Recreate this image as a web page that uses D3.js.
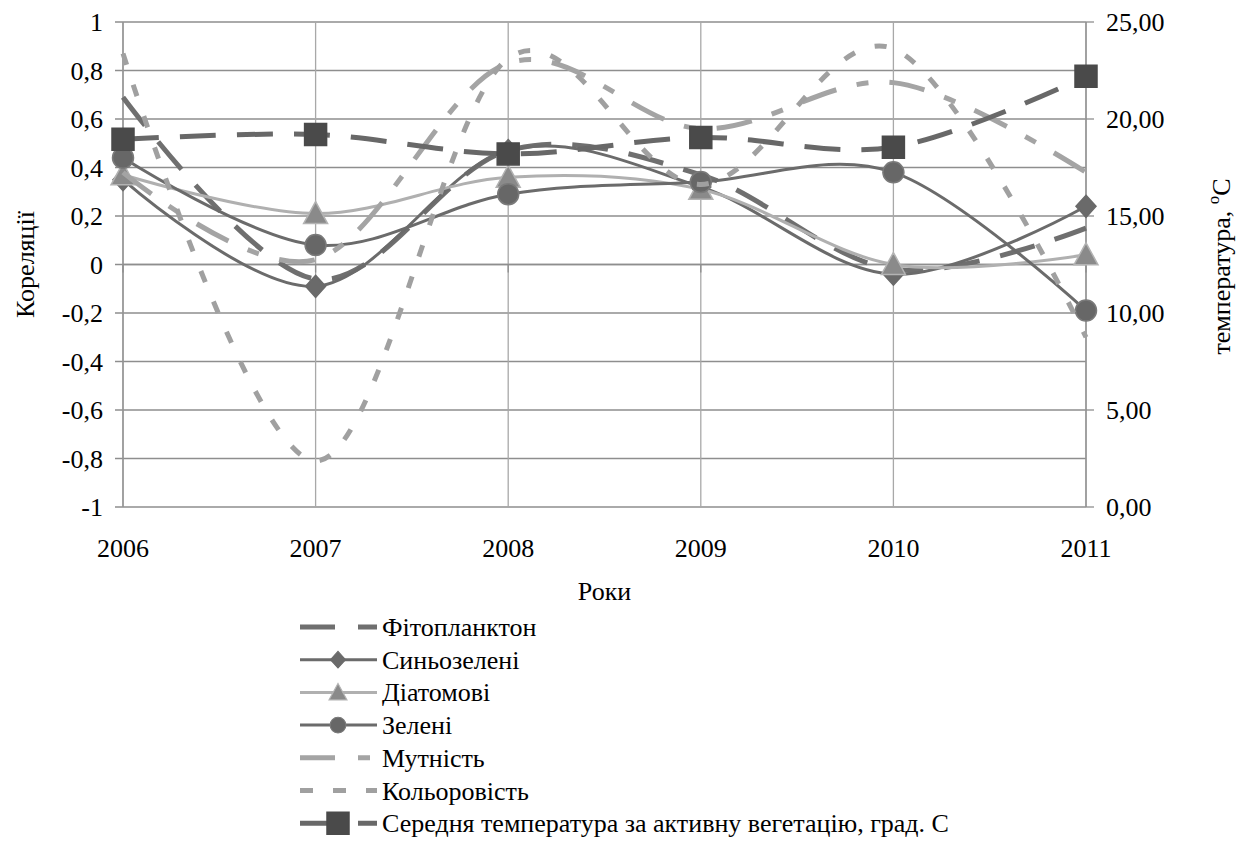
<!DOCTYPE html>
<html><head><meta charset="utf-8">
<script src="https://cdn.jsdelivr.net/npm/d3@7"></script>
</head>
<body style="margin:0">
<svg id="c" width="1240" height="842" style="font-family:'Times New Roman'"></svg>
<script>
const years = [2006, 2007, 2008, 2009, 2010, 2011];
const fitoplankton = [0.69, -0.06, 0.47, 0.37, -0.02, 0.15];
const synozeleni = [0.35, -0.09, 0.47, 0.32, -0.04, 0.24];
const diatomovi = [0.37, 0.21, 0.36, 0.31, 0.00, 0.04];
const zeleni = [0.44, 0.08, 0.29, 0.34, 0.38, -0.19];
const mutnist = [0.38, 0.02, 0.83, 0.56, 0.75, 0.38];
const kolorovist = [0.87, -0.81, 0.85, 0.33, 0.89, -0.30];
const temperature = [18.95, 19.2, 18.2, 19.05, 18.55, 22.2];
const leftTicks = [1, 0.8, 0.6, 0.4, 0.2, 0, -0.2, -0.4, -0.6, -0.8, -1];
const rightTicks = [25, 20, 15, 10, 5, 0];
const seriesNames = ["Фітопланктон","Синьозелені","Діатомові","Зелені","Мутність","Кольоровість","Середня температура за активну вегетацію, град. С"];

const svg = d3.select("#c");
const L = 123, R = 1086, T = 22, B = 507;
const x = d3.scalePoint().domain(years).range([L, R]);
const yL = d3.scaleLinear().domain([-1, 1]).range([B, T]);
const yR = d3.scaleLinear().domain([0, 25]).range([B, T]);
const FS = 26;

function txt(sel) {
  return sel.style("font-family", "'Times New Roman'").attr("font-size", FS);
}

const g = svg.append("g");
g.selectAll("line.h").data(leftTicks).enter().append("line")
  .attr("x1", L - 8).attr("x2", R).attr("y1", d => yL(d)).attr("y2", d => yL(d))
  .attr("stroke", "#8e8e8e").attr("stroke-width", 1.3);
g.selectAll("line.v").data(years).enter().append("line")
  .attr("x1", d => x(d)).attr("x2", d => x(d)).attr("y1", T).attr("y2", B)
  .attr("stroke", "#a8a8a8").attr("stroke-width", 1.3);
g.append("line").attr("x1", L).attr("x2", L).attr("y1", T).attr("y2", B).attr("stroke", "#8e8e8e").attr("stroke-width", 1.3);
g.append("line").attr("x1", R).attr("x2", R).attr("y1", T).attr("y2", B).attr("stroke", "#8e8e8e").attr("stroke-width", 1.3);
g.selectAll("line.rt").data(rightTicks).enter().append("line")
  .attr("x1", R).attr("x2", R + 8).attr("y1", d => yR(d)).attr("y2", d => yR(d))
  .attr("stroke", "#8e8e8e").attr("stroke-width", 1.3);
g.append("line").attr("x1", L).attr("x2", R).attr("y1", yL(0)).attr("y2", yL(0)).attr("stroke", "#8e8e8e").attr("stroke-width", 1.3);
g.selectAll("line.xt").data(years).enter().append("line")
  .attr("x1", d => x(d)).attr("x2", d => x(d)).attr("y1", yL(0)).attr("y2", yL(0) + 8)
  .attr("stroke", "#8e8e8e").attr("stroke-width", 1.3);

const fmtL = d => d === 0 ? "0" : (Number.isInteger(d) ? String(d) : d.toFixed(1).replace(".", ","));
txt(svg.selectAll("text.lt").data(leftTicks).enter().append("text"))
  .attr("x", 103).attr("y", d => yL(d) + 9).attr("text-anchor", "end").text(fmtL);
txt(svg.selectAll("text.rtl").data(rightTicks).enter().append("text"))
  .attr("x", 1106).attr("y", d => yR(d) + 9).attr("text-anchor", "start")
  .text(d => d.toFixed(2).replace(".", ","));
txt(svg.selectAll("text.xl").data(years).enter().append("text"))
  .attr("x", d => x(d)).attr("y", 557).attr("text-anchor", "middle").text(d => d);
txt(svg.append("text")).attr("x", (L + R) / 2).attr("y", 600).attr("text-anchor", "middle").text("Роки");
txt(svg.append("text")).attr("transform", "translate(34," + ((T + B) / 2) + ") rotate(-90)")
  .attr("text-anchor", "middle").text("Кореляції");
const rt = txt(svg.append("text")).attr("transform", "translate(1230," + ((T + B) / 2 + 2) + ") rotate(-90)")
  .attr("text-anchor", "middle");
rt.append("tspan").text("температура, ");
rt.append("tspan").attr("font-size", 17).attr("dy", -11).text("o");
rt.append("tspan").attr("dy", 11).text("C");

const curve = d3.curveCardinal.tension(0);
const lineL = d3.line().x((d, i) => x(years[i])).y(d => yL(d)).curve(curve);
const lineR = d3.line().x((d, i) => x(years[i])).y(d => yR(d)).curve(curve);

const styles = [
  {data: fitoplankton, color: "#6f6f6f", w: 5, dash: "36,21", ldash: "35,23", marker: null},
  {data: synozeleni, color: "#6b6b6b", w: 3, dash: null, marker: "diamond", mfill: "#6a6a6a", mstroke: "#6a6a6a"},
  {data: diatomovi, color: "#b0b0b0", w: 3, dash: null, marker: "triangle", mfill: "#8a8a8a", mstroke: "#b3b3b3"},
  {data: zeleni, color: "#6b6b6b", w: 3, dash: null, marker: "circle", mfill: "#676767", mstroke: "#7a7a7a"},
  {data: mutnist, color: "#a4a4a4", w: 5, dash: "36,21,12,21", ldash: "35,23,12,23", marker: null},
  {data: kolorovist, color: "#a0a0a0", w: 5, dash: "12,21", ldash: "13,20", marker: null},
  {data: temperature, color: "#686868", w: 5, dash: "36,21", ldash: "27,31,19", marker: "square", mfill: "#4a4a4a", mstroke: "#4a4a4a", right: true}
];

function markerPath(type) {
  if (type === "diamond") return "M0,-11L10,0L0,11L-10,0Z";
  if (type === "triangle") return "M0,-12L12,10L-12,10Z";
  if (type === "square") return "M-11,-11H11V11H-11Z";
  if (type === "circle") { const p = d3.path(); p.arc(0, 0, 10.5, 0, 2 * Math.PI); return p.toString(); }
  return "";
}

const plot = svg.append("g");
styles.forEach(s => {
  const ln = s.right ? lineR : lineL;
  const sc = s.right ? yR : yL;
  plot.append("path").attr("d", ln(s.data)).attr("fill", "none")
    .attr("stroke", s.color).attr("stroke-width", s.w)
    .attr("stroke-dasharray", s.dash).attr("stroke-linecap", "butt");
  if (s.marker) {
    plot.selectAll(null).data(s.data).enter().append("path")
      .attr("d", markerPath(s.marker))
      .attr("transform", (d, i) => "translate(" + x(years[i]) + "," + sc(d) + ")")
      .attr("fill", s.mfill).attr("stroke", s.mstroke).attr("stroke-width", 1.5);
  }
});

const leg = svg.append("g");
styles.forEach((s, i) => {
  const cy = 627 + i * 32.7;
  leg.append("line").attr("x1", 300).attr("x2", 377).attr("y1", cy).attr("y2", cy)
    .attr("stroke", s.color).attr("stroke-width", s.w)
    .attr("stroke-dasharray", s.ldash || null);
  if (s.marker) {
    leg.append("path").attr("d", markerPath(s.marker))
      .attr("transform", "translate(338," + cy + ") scale(" + (s.marker === "square" ? 1 : 0.75) + ")")
      .attr("fill", s.mfill).attr("stroke", s.mstroke).attr("stroke-width", 1.5);
  }
  txt(leg.append("text")).attr("x", 382).attr("y", cy + 9).text(seriesNames[i]);
});
</script></body></html>
